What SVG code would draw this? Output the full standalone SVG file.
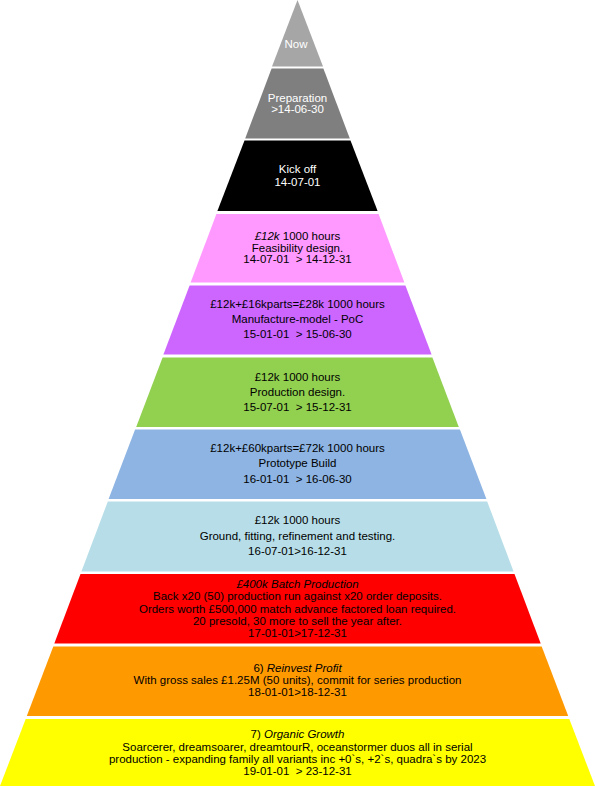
<svg xmlns="http://www.w3.org/2000/svg" width="595" height="786" viewBox="0 0 595 786">
<style>
text{font-family:"Liberation Sans",Arial,sans-serif;font-size:11.5px;text-anchor:middle;fill:#000;white-space:pre}
.w{fill:#fff}
.i{font-style:italic}
</style>
<rect width="595" height="786" fill="#fff"/>
<g id="now"><polygon points="297.5,0 323,66.5 272,66.5" fill="#a6a6a6"/><text class="w" x="296" y="48">Now</text></g>
<g id="preparation"><polygon points="271.6,68.5 323.4,68.5 349.8,138.5 245.2,138.5" fill="#7f7f7f"/><text class="w" x="297.5" y="102">Preparation</text><text class="w" x="297.5" y="113">&gt;14-06-30</text></g>
<g id="kickoff"><polygon points="244.5,140.5 350.5,140.5 377.6,211 217.4,211" fill="#000"/><text class="w" x="297.5" y="173">Kick off</text><text class="w" x="297.5" y="186">14-07-01</text></g>
<g id="feasibility"><polygon points="216.4,214 378.6,214 404.4,282.5 190.6,282.5" fill="#ff99ff"/><text x="297.5" y="240"><tspan class="i">£12k</tspan> 1000 hours</text><text x="297.5" y="251.5">Feasibility design.</text><text x="297.5" y="263">14-07-01  &gt; 14-12-31</text></g>
<g id="poc"><polygon points="189.6,285.5 405.4,285.5 431.6,354.5 163.4,354.5" fill="#cc66ff"/><text x="297.5" y="308">£12k+£16kparts=£28k 1000 hours</text><text x="297.5" y="323">Manufacture-model - PoC</text><text x="297.5" y="338">15-01-01  &gt; 15-06-30</text></g>
<g id="production-design"><polygon points="162.6,357.5 432.4,357.5 458.8,427 136.2,427" fill="#92d050"/><text x="297.5" y="381">£12k 1000 hours</text><text x="297.5" y="395.5">Production design.</text><text x="297.5" y="411">15-07-01  &gt; 15-12-31</text></g>
<g id="prototype"><polygon points="135.1,429.5 459.9,429.5 486.4,499 108.6,499" fill="#8db4e2"/><text x="297.5" y="452">£12k+£60kparts=£72k 1000 hours</text><text x="297.5" y="467">Prototype Build</text><text x="297.5" y="483">16-01-01  &gt; 16-06-30</text></g>
<g id="testing"><polygon points="107.8,501.5 487.2,501.5 513.6,571.5 81.4,571.5" fill="#b7dee8"/><text x="297.5" y="524">£12k 1000 hours</text><text x="297.5" y="540">Ground, fitting, refinement and testing.</text><text x="297.5" y="555">16-07-01&gt;16-12-31</text></g>
<g id="batch"><polygon points="80.5,574 514.5,574 540.7,643.5 54.3,643.5" fill="#ff0000"/><text class="i" x="297.5" y="588">£400k Batch Production</text><text x="297.5" y="600">Back x20 (50) production run against x20 order deposits.</text><text x="297.5" y="613">Orders worth £500,000 match advance factored loan required.</text><text x="297.5" y="625">20 presold, 30 more to sell the year after.</text><text x="297.5" y="637">17-01-01&gt;17-12-31</text></g>
<g id="reinvest"><polygon points="53.3,646.5 541.7,646.5 568.2,716 26.8,716" fill="#ff9900"/><text x="297.5" y="672">6) <tspan class="i">Reinvest Profit</tspan></text><text x="297.5" y="684">With gross sales £1.25M (50 units), commit for series production</text><text x="297.5" y="696">18-01-01&gt;18-12-31</text></g>
<g id="growth"><polygon points="25.7,719 569.3,719 595,786 0,786" fill="#ffff00"/><text x="297.5" y="738">7) <tspan class="i">Organic Growth</tspan></text><text x="297.5" y="751">Soarcerer, dreamsoarer, dreamtourR, oceanstormer duos all in serial</text><text x="297.5" y="763">production - expanding family all variants inc +0`s, +2`s, quadra`s by 2023</text><text x="297.5" y="775">19-01-01  &gt; 23-12-31</text></g>
<g id="connectors"></g>
</svg>
